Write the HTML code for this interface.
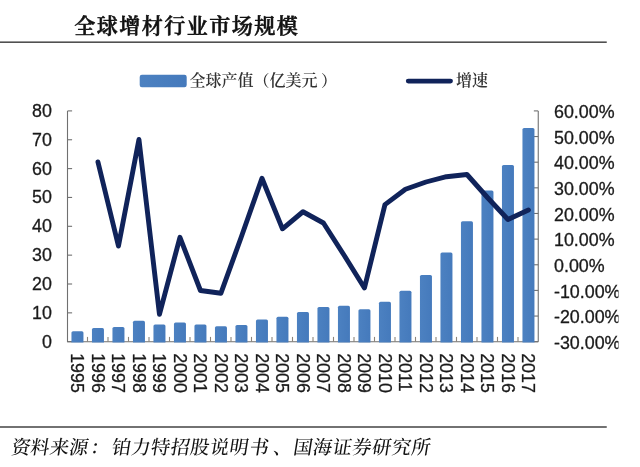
<!DOCTYPE html>
<html lang="zh-CN"><head><meta charset="utf-8"><title>全球增材行业市场规模</title>
<style>html,body{margin:0;padding:0;background:#fff;}body{width:640px;height:467px;overflow:hidden;}svg{display:block;}.num{font-family:"Liberation Sans",sans-serif;font-size:17.85px;fill:#1a1a1a;stroke:#1a1a1a;stroke-width:0.3px;}.kai{font-family:"Liberation Serif","Noto Serif CJK SC",serif;}.song{font-family:"Liberation Serif","Noto Serif CJK SC",serif;font-size:16px;font-weight:600;fill:#333;}</style></head><body>
<svg width="640" height="467" viewBox="0 0 640 467">
<defs><linearGradient id="bg" x1="0" y1="0" x2="1" y2="0"><stop offset="0" stop-color="#4c81c1"/><stop offset="1" stop-color="#457abc"/></linearGradient><clipPath id="clipR"><rect x="0" y="0" width="618.5" height="467"/></clipPath></defs>
<rect width="640" height="467" fill="#fff"/>
<text class="kai" x="74.2 96.7 119.2 141.7 164.2 186.7 209.2 231.7 254.2 276.7" y="32.5" font-size="21" font-weight="600" fill="#111" stroke="#111" stroke-width="0.55" stroke-linejoin="round">全球增材行业市场规模</text>
<rect x="0" y="41.4" width="606.75" height="1.6" fill="#505050"/>
<rect x="139.7" y="74.7" width="47" height="12.5" rx="2.2" fill="url(#bg)"/>
<text class="song" x="189.5" y="86.4">全球产值（亿美元<tspan dx="3.5">）</tspan></text>
<line x1="408.3" y1="81.1" x2="450.5" y2="81.1" stroke="#10235a" stroke-width="4.9" stroke-linecap="round"/>
<text class="song" x="456" y="86.4">增速</text>
<g stroke="#707070" stroke-width="1.1" fill="none">
<path d="M67.50 110.90 V341.70 H538.25"/>
<path d="M538.25 110.90 V341.70"/>
<path d="M67.50 110.90 h4.6"/>
<path d="M67.50 139.75 h4.6"/>
<path d="M67.50 168.60 h4.6"/>
<path d="M67.50 197.45 h4.6"/>
<path d="M67.50 226.30 h4.6"/>
<path d="M67.50 255.15 h4.6"/>
<path d="M67.50 284.00 h4.6"/>
<path d="M67.50 312.85 h4.6"/>
<path d="M67.50 341.70 h4.6"/>
<path d="M538.25 110.90 h-4.4"/>
<path d="M538.25 136.54 h-4.4"/>
<path d="M538.25 162.19 h-4.4"/>
<path d="M538.25 187.83 h-4.4"/>
<path d="M538.25 213.48 h-4.4"/>
<path d="M538.25 239.12 h-4.4"/>
<path d="M538.25 264.77 h-4.4"/>
<path d="M538.25 290.41 h-4.4"/>
<path d="M538.25 316.06 h-4.4"/>
<path d="M538.25 341.70 h-4.4"/>
<path d="M87.50 341.70 v-4.8" stroke="#8c857a"/>
<path d="M108.00 341.70 v-4.8" stroke="#8c857a"/>
<path d="M128.50 341.70 v-4.8" stroke="#8c857a"/>
<path d="M149.00 341.70 v-4.8" stroke="#8c857a"/>
<path d="M169.50 341.70 v-4.8" stroke="#8c857a"/>
<path d="M190.00 341.70 v-4.8" stroke="#8c857a"/>
<path d="M210.50 341.70 v-4.8" stroke="#8c857a"/>
<path d="M231.00 341.70 v-4.8" stroke="#8c857a"/>
<path d="M251.50 341.70 v-4.8" stroke="#8c857a"/>
<path d="M272.00 341.70 v-4.8" stroke="#8c857a"/>
<path d="M292.50 341.70 v-4.8" stroke="#8c857a"/>
<path d="M313.00 341.70 v-4.8" stroke="#8c857a"/>
<path d="M333.50 341.70 v-4.8" stroke="#8c857a"/>
<path d="M354.00 341.70 v-4.8" stroke="#8c857a"/>
<path d="M374.50 341.70 v-4.8" stroke="#8c857a"/>
<path d="M395.00 341.70 v-4.8" stroke="#8c857a"/>
<path d="M415.50 341.70 v-4.8" stroke="#8c857a"/>
<path d="M436.00 341.70 v-4.8" stroke="#8c857a"/>
<path d="M456.50 341.70 v-4.8" stroke="#8c857a"/>
<path d="M477.00 341.70 v-4.8" stroke="#8c857a"/>
<path d="M497.50 341.70 v-4.8" stroke="#8c857a"/>
<path d="M518.00 341.70 v-4.8" stroke="#8c857a"/>
</g>
<path d="M71.45 342.60 V332.85 Q71.45 331.25 73.05 331.25 H81.85 Q83.45 331.25 83.45 332.85 V342.60 Z" fill="url(#bg)"/>
<path d="M91.95 342.60 V329.60 Q91.95 328.00 93.55 328.00 H102.35 Q103.95 328.00 103.95 329.60 V342.60 Z" fill="url(#bg)"/>
<path d="M112.45 342.60 V328.60 Q112.45 327.00 114.05 327.00 H122.85 Q124.45 327.00 124.45 328.60 V342.60 Z" fill="url(#bg)"/>
<path d="M132.95 342.60 V322.35 Q132.95 320.75 134.55 320.75 H143.35 Q144.95 320.75 144.95 322.35 V342.60 Z" fill="url(#bg)"/>
<path d="M153.45 342.60 V326.10 Q153.45 324.50 155.05 324.50 H163.85 Q165.45 324.50 165.45 326.10 V342.60 Z" fill="url(#bg)"/>
<path d="M173.95 342.60 V324.10 Q173.95 322.50 175.55 322.50 H184.35 Q185.95 322.50 185.95 324.10 V342.60 Z" fill="url(#bg)"/>
<path d="M194.45 342.60 V326.10 Q194.45 324.50 196.05 324.50 H204.85 Q206.45 324.50 206.45 326.10 V342.60 Z" fill="url(#bg)"/>
<path d="M214.95 342.60 V327.85 Q214.95 326.25 216.55 326.25 H225.35 Q226.95 326.25 226.95 327.85 V342.60 Z" fill="url(#bg)"/>
<path d="M235.45 342.60 V326.60 Q235.45 325.00 237.05 325.00 H245.85 Q247.45 325.00 247.45 326.60 V342.60 Z" fill="url(#bg)"/>
<path d="M255.95 342.60 V321.10 Q255.95 319.50 257.55 319.50 H266.35 Q267.95 319.50 267.95 321.10 V342.60 Z" fill="url(#bg)"/>
<path d="M276.45 342.60 V318.35 Q276.45 316.75 278.05 316.75 H286.85 Q288.45 316.75 288.45 318.35 V342.60 Z" fill="url(#bg)"/>
<path d="M296.95 342.60 V313.60 Q296.95 312.00 298.55 312.00 H307.35 Q308.95 312.00 308.95 313.60 V342.60 Z" fill="url(#bg)"/>
<path d="M317.45 342.60 V308.60 Q317.45 307.00 319.05 307.00 H327.85 Q329.45 307.00 329.45 308.60 V342.60 Z" fill="url(#bg)"/>
<path d="M337.95 342.60 V307.35 Q337.95 305.75 339.55 305.75 H348.35 Q349.95 305.75 349.95 307.35 V342.60 Z" fill="url(#bg)"/>
<path d="M358.45 342.60 V310.85 Q358.45 309.25 360.05 309.25 H368.85 Q370.45 309.25 370.45 310.85 V342.60 Z" fill="url(#bg)"/>
<path d="M378.95 342.60 V303.35 Q378.95 301.75 380.55 301.75 H389.35 Q390.95 301.75 390.95 303.35 V342.60 Z" fill="url(#bg)"/>
<path d="M399.45 342.60 V292.35 Q399.45 290.75 401.05 290.75 H409.85 Q411.45 290.75 411.45 292.35 V342.60 Z" fill="url(#bg)"/>
<path d="M419.95 342.60 V276.60 Q419.95 275.00 421.55 275.00 H430.35 Q431.95 275.00 431.95 276.60 V342.60 Z" fill="url(#bg)"/>
<path d="M440.45 342.60 V254.10 Q440.45 252.50 442.05 252.50 H450.85 Q452.45 252.50 452.45 254.10 V342.60 Z" fill="url(#bg)"/>
<path d="M460.95 342.60 V222.85 Q460.95 221.25 462.55 221.25 H471.35 Q472.95 221.25 472.95 222.85 V342.60 Z" fill="url(#bg)"/>
<path d="M481.45 342.60 V192.10 Q481.45 190.50 483.05 190.50 H491.85 Q493.45 190.50 493.45 192.10 V342.60 Z" fill="url(#bg)"/>
<path d="M501.95 342.60 V166.60 Q501.95 165.00 503.55 165.00 H512.35 Q513.95 165.00 513.95 166.60 V342.60 Z" fill="url(#bg)"/>
<path d="M522.45 342.60 V129.60 Q522.45 128.00 524.05 128.00 H532.85 Q534.45 128.00 534.45 129.60 V342.60 Z" fill="url(#bg)"/>
<polyline points="97.95,162.00 118.45,246.00 138.95,139.50 159.45,314.30 179.95,237.30 200.45,290.50 220.95,293.20 241.45,236.50 261.95,178.25 282.45,228.80 302.95,211.75 323.45,223.00 343.95,255.00 364.45,288.00 384.95,204.60 405.45,189.20 425.95,182.00 446.45,176.70 466.95,174.50 487.45,197.50 507.95,219.50 528.45,210.00" fill="none" stroke="#10235a" stroke-width="4.9" stroke-linecap="round" stroke-linejoin="round"/>
<text class="num" x="51.9" y="116.80" text-anchor="end">80</text>
<text class="num" x="51.9" y="145.65" text-anchor="end">70</text>
<text class="num" x="51.9" y="174.50" text-anchor="end">60</text>
<text class="num" x="51.9" y="203.35" text-anchor="end">50</text>
<text class="num" x="51.9" y="232.20" text-anchor="end">40</text>
<text class="num" x="51.9" y="261.05" text-anchor="end">30</text>
<text class="num" x="51.9" y="289.90" text-anchor="end">20</text>
<text class="num" x="51.9" y="318.75" text-anchor="end">10</text>
<text class="num" x="51.9" y="347.60" text-anchor="end">0</text>
<g clip-path="url(#clipR)">
<text class="num" x="554" y="118.00">60.00%</text>
<text class="num" x="554" y="143.64">50.00%</text>
<text class="num" x="554" y="169.29">40.00%</text>
<text class="num" x="554" y="194.93">30.00%</text>
<text class="num" x="554" y="220.58">20.00%</text>
<text class="num" x="554" y="246.22">10.00%</text>
<text class="num" x="554" y="271.87">0.00%</text>
<text class="num" x="554" y="297.51">-10.00%</text>
<text class="num" x="554" y="323.16">-20.00%</text>
<text class="num" x="554" y="348.80">-30.00%</text>
</g>
<text class="num" font-size="17.4" transform="translate(71.45 353.2) rotate(90)">1995</text>
<text class="num" font-size="17.4" transform="translate(91.95 353.2) rotate(90)">1996</text>
<text class="num" font-size="17.4" transform="translate(112.45 353.2) rotate(90)">1997</text>
<text class="num" font-size="17.4" transform="translate(132.95 353.2) rotate(90)">1998</text>
<text class="num" font-size="17.4" transform="translate(153.45 353.2) rotate(90)">1999</text>
<text class="num" font-size="17.4" transform="translate(173.95 353.2) rotate(90)">2000</text>
<text class="num" font-size="17.4" transform="translate(194.45 353.2) rotate(90)">2001</text>
<text class="num" font-size="17.4" transform="translate(214.95 353.2) rotate(90)">2002</text>
<text class="num" font-size="17.4" transform="translate(235.45 353.2) rotate(90)">2003</text>
<text class="num" font-size="17.4" transform="translate(255.95 353.2) rotate(90)">2004</text>
<text class="num" font-size="17.4" transform="translate(276.45 353.2) rotate(90)">2005</text>
<text class="num" font-size="17.4" transform="translate(296.95 353.2) rotate(90)">2006</text>
<text class="num" font-size="17.4" transform="translate(317.45 353.2) rotate(90)">2007</text>
<text class="num" font-size="17.4" transform="translate(337.95 353.2) rotate(90)">2008</text>
<text class="num" font-size="17.4" transform="translate(358.45 353.2) rotate(90)">2009</text>
<text class="num" font-size="17.4" transform="translate(378.95 353.2) rotate(90)">2010</text>
<text class="num" font-size="17.4" transform="translate(399.45 353.2) rotate(90)">2011</text>
<text class="num" font-size="17.4" transform="translate(419.95 353.2) rotate(90)">2012</text>
<text class="num" font-size="17.4" transform="translate(440.45 353.2) rotate(90)">2013</text>
<text class="num" font-size="17.4" transform="translate(460.95 353.2) rotate(90)">2014</text>
<text class="num" font-size="17.4" transform="translate(481.45 353.2) rotate(90)">2015</text>
<text class="num" font-size="17.4" transform="translate(501.95 353.2) rotate(90)">2016</text>
<text class="num" font-size="17.4" transform="translate(522.45 353.2) rotate(90)">2017</text>
<rect x="0" y="426.2" width="606.75" height="1.6" fill="#505050"/>
<g transform="translate(0 453.5) skewX(-9)"><text class="kai" x="10.4 29.6 48.9 68.2 89.4 110.9 130.5 150.1 169.7 189.3 208.9 228.5 248.7 272.4 292.4 312.1 331.8 351.5 371.2 390.9 410.6" y="0" font-size="19.2" font-weight="500" fill="#111">资料来源：铂力特招股说明书、国海证券研究所</text></g>
</svg></body></html>
